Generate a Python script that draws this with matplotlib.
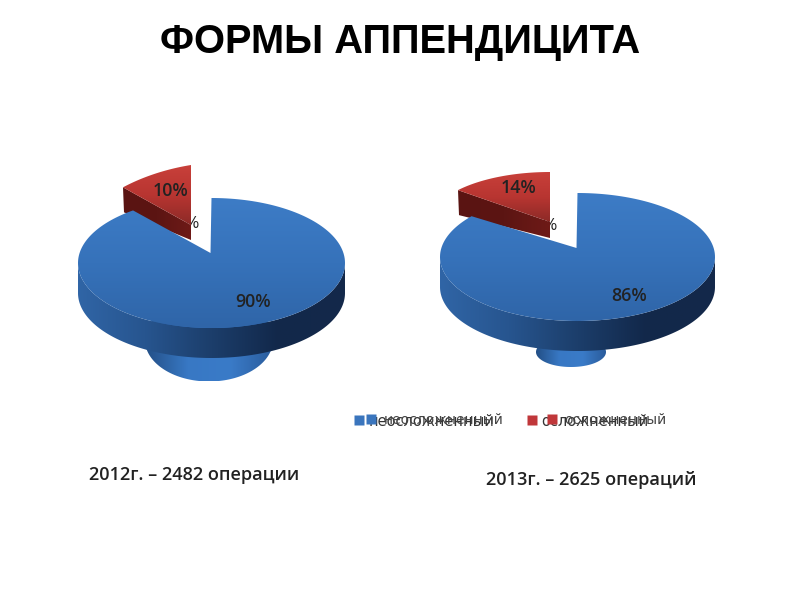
#!/usr/bin/env python3
import numpy as np
import matplotlib
matplotlib.use('Agg')
import matplotlib.pyplot as plt
from matplotlib.colors import LinearSegmentedColormap
from matplotlib.lines import Line2D
from matplotlib.patches import Polygon

TITLE = 'ФОРМЫ АППЕНДИЦИТА'
CATEGORIES = ['неосложненный', 'осложненный']
SHARES_2012 = [90, 10]
SHARES_2013 = [86, 14]
CAPTION_2012 = '2012г. – 2482 операции'
CAPTION_2013 = '2013г. – 2625 операций'

BLUE_TOP = LinearSegmentedColormap.from_list('bt', ['#3d7cc6', '#3672ba', '#2f65a8'])
BLUE_SIDE = LinearSegmentedColormap.from_list('bs', ['#3065a6', '#27558f', '#1c3e6b', '#12284a', '#14294a'])
BLUE_BOWL = LinearSegmentedColormap.from_list('bb', ['#234f86', '#3878c4', '#3a7bc8', '#2a5c9c'])
RED_TOP = LinearSegmentedColormap.from_list('rt', ['#c8403a', '#b83531', '#8c2a27'])
RED_SIDE = LinearSegmentedColormap.from_list('rs', ['#5a1412', '#5c1513', '#6e1a17'])


def fill_gradient(ax, xs, ys, cmap, horizontal, zorder):
    poly = Polygon(np.column_stack([xs, ys]), closed=True, fc='none', ec='none')
    ax.add_patch(poly)
    grad = np.linspace(0, 1, 256)
    grad = grad.reshape(1, -1) if horizontal else grad.reshape(-1, 1)
    im = ax.imshow(grad, cmap=cmap, aspect='auto', zorder=zorder, interpolation='bilinear',
                   extent=[min(xs), max(xs), max(ys), min(ys)])
    im.set_clip_path(poly)


def draw_pie(ax, shares, cx, cy, rx, ry, depth, apex_y, red, bowl):
    blue_end = np.deg2rad(360 * shares[0] / sum(shares))
    t = np.linspace(0, blue_end, 200)
    top_x = cx + rx * np.sin(t)
    top_y = cy - ry * np.cos(t)

    # bowl under the pie
    bx, by, brx, bry = bowl
    a = np.linspace(0, 2 * np.pi, 200)
    fill_gradient(ax, bx + brx * np.cos(a), by + bry * np.sin(a), BLUE_BOWL, True, 1)

    # rim, only the front part shows
    s = np.linspace(np.pi / 2, 3 * np.pi / 2, 200)
    rim_x = cx + rx * np.sin(s)
    rim_y = cy - ry * np.cos(s)
    fill_gradient(ax, np.r_[rim_x[::-1], rim_x], np.r_[rim_y[::-1] + depth, rim_y],
                  BLUE_SIDE, True, 2)

    # top surface
    fill_gradient(ax, np.r_[cx - 1, top_x], np.r_[apex_y, top_y], BLUE_TOP, False, 3)

    # pulled out slice, leaning like the picture does
    rcx, r_top, rrx, rry, lean, apex, depth_in, depth_out = red
    r_end = np.deg2rad(360 * shares[1] / sum(shares))
    u = np.linspace(0, r_end, 60)
    red_x = rcx - rrx * np.sin(u)
    red_y = r_top + rry * (1 - np.cos(u)) + lean * rrx * np.sin(u)
    fill_gradient(ax, [rcx, red_x[-1], red_x[-1] + 1, rcx],
                  [apex, red_y[-1], red_y[-1] + depth_out, apex + depth_in], RED_SIDE, True, 1.5)
    fill_gradient(ax, np.r_[rcx, red_x], np.r_[apex, red_y], RED_TOP, False, 1.6)


fig = plt.figure(figsize=(8, 6), dpi=100)
ax = fig.add_axes([0, 0, 1, 1])
ax.set_axis_off()

draw_pie(ax, SHARES_2012, 211.5, 263, 133.5, 65, 30, 253,
         (191, 165, 68 / np.sin(np.deg2rad(36)), 60, 0.16, 225, 15, 25),
         (209, 340, 64, 41.5))
draw_pie(ax, SHARES_2013, 577.5, 257, 137.5, 64, 30, 248,
         (550, 172, 92 / np.sin(np.deg2rad(50.4)), 50, 0.0, 222, 16, 25),
         (571, 352, 35, 15))

ax.set_xlim(0, 800)
ax.set_ylim(600, 0)

LABEL_FONT = ['Open Sans', 'DejaVu Sans']
label_kw = dict(family=LABEL_FONT, fontweight='semibold', fontsize=12.8, color='#222222',
                ha='center', va='center', zorder=6)
ax.text(253, 302, f'{SHARES_2012[0]}%', **label_kw)
ax.text(171, 191, f'{SHARES_2012[1]}%', **label_kw)
ax.text(629, 296, f'{SHARES_2013[0]}%', **label_kw)
ax.text(519, 188, f'{SHARES_2013[1]}%', **label_kw)
# bits of the old labels peeking out next to the red slices
stray_kw = dict(zorder=1, fontsize=12.5, family=LABEL_FONT, color='#222222', ha='center', va='center')
ax.text(191, 224, '%', **stray_kw)
ax.text(549, 226, '%', **stray_kw)

ax.text(400, 42, TITLE, family='Liberation Sans', fontweight='bold', fontsize=28.7,
        color='black', ha='center', va='center')
cap_kw = dict(family=LABEL_FONT, fontweight='semibold', fontsize=13.1, color='#222222',
              ha='center', va='center')
ax.text(194, 475, CAPTION_2012, **cap_kw)
ax.text(591, 480, CAPTION_2013, **cap_kw)

# the legend is doubled in the source, two layers a little apart
handles = [Line2D([], [], ls='', marker='s', ms=7, mfc=c, mec='none') for c in ('#3a75bd', '#c0373a')]
leg1 = ax.legend(handles, CATEGORIES, loc='center left', bbox_to_anchor=(352, 421),
                 bbox_transform=ax.transData, frameon=False, ncol=2, columnspacing=2.05,
                 handlelength=1, handletextpad=0.14, borderpad=0, borderaxespad=0,
                 prop={'family': 'DejaVu Sans', 'size': 10.5})
for txt in leg1.get_texts():
    txt.set_color('#333333')
ax.add_artist(leg1)
leg2 = ax.legend(handles, CATEGORIES, loc='center left', bbox_to_anchor=(364, 420),
                 bbox_transform=ax.transData, frameon=False, ncol=2, columnspacing=2.95,
                 handlelength=1, handletextpad=0.43, borderpad=0, borderaxespad=0,
                 prop={'family': 'DejaVu Sans', 'size': 10})
for txt in leg2.get_texts():
    txt.set_color('#444444')

fig.savefig('out.png', dpi=100)
